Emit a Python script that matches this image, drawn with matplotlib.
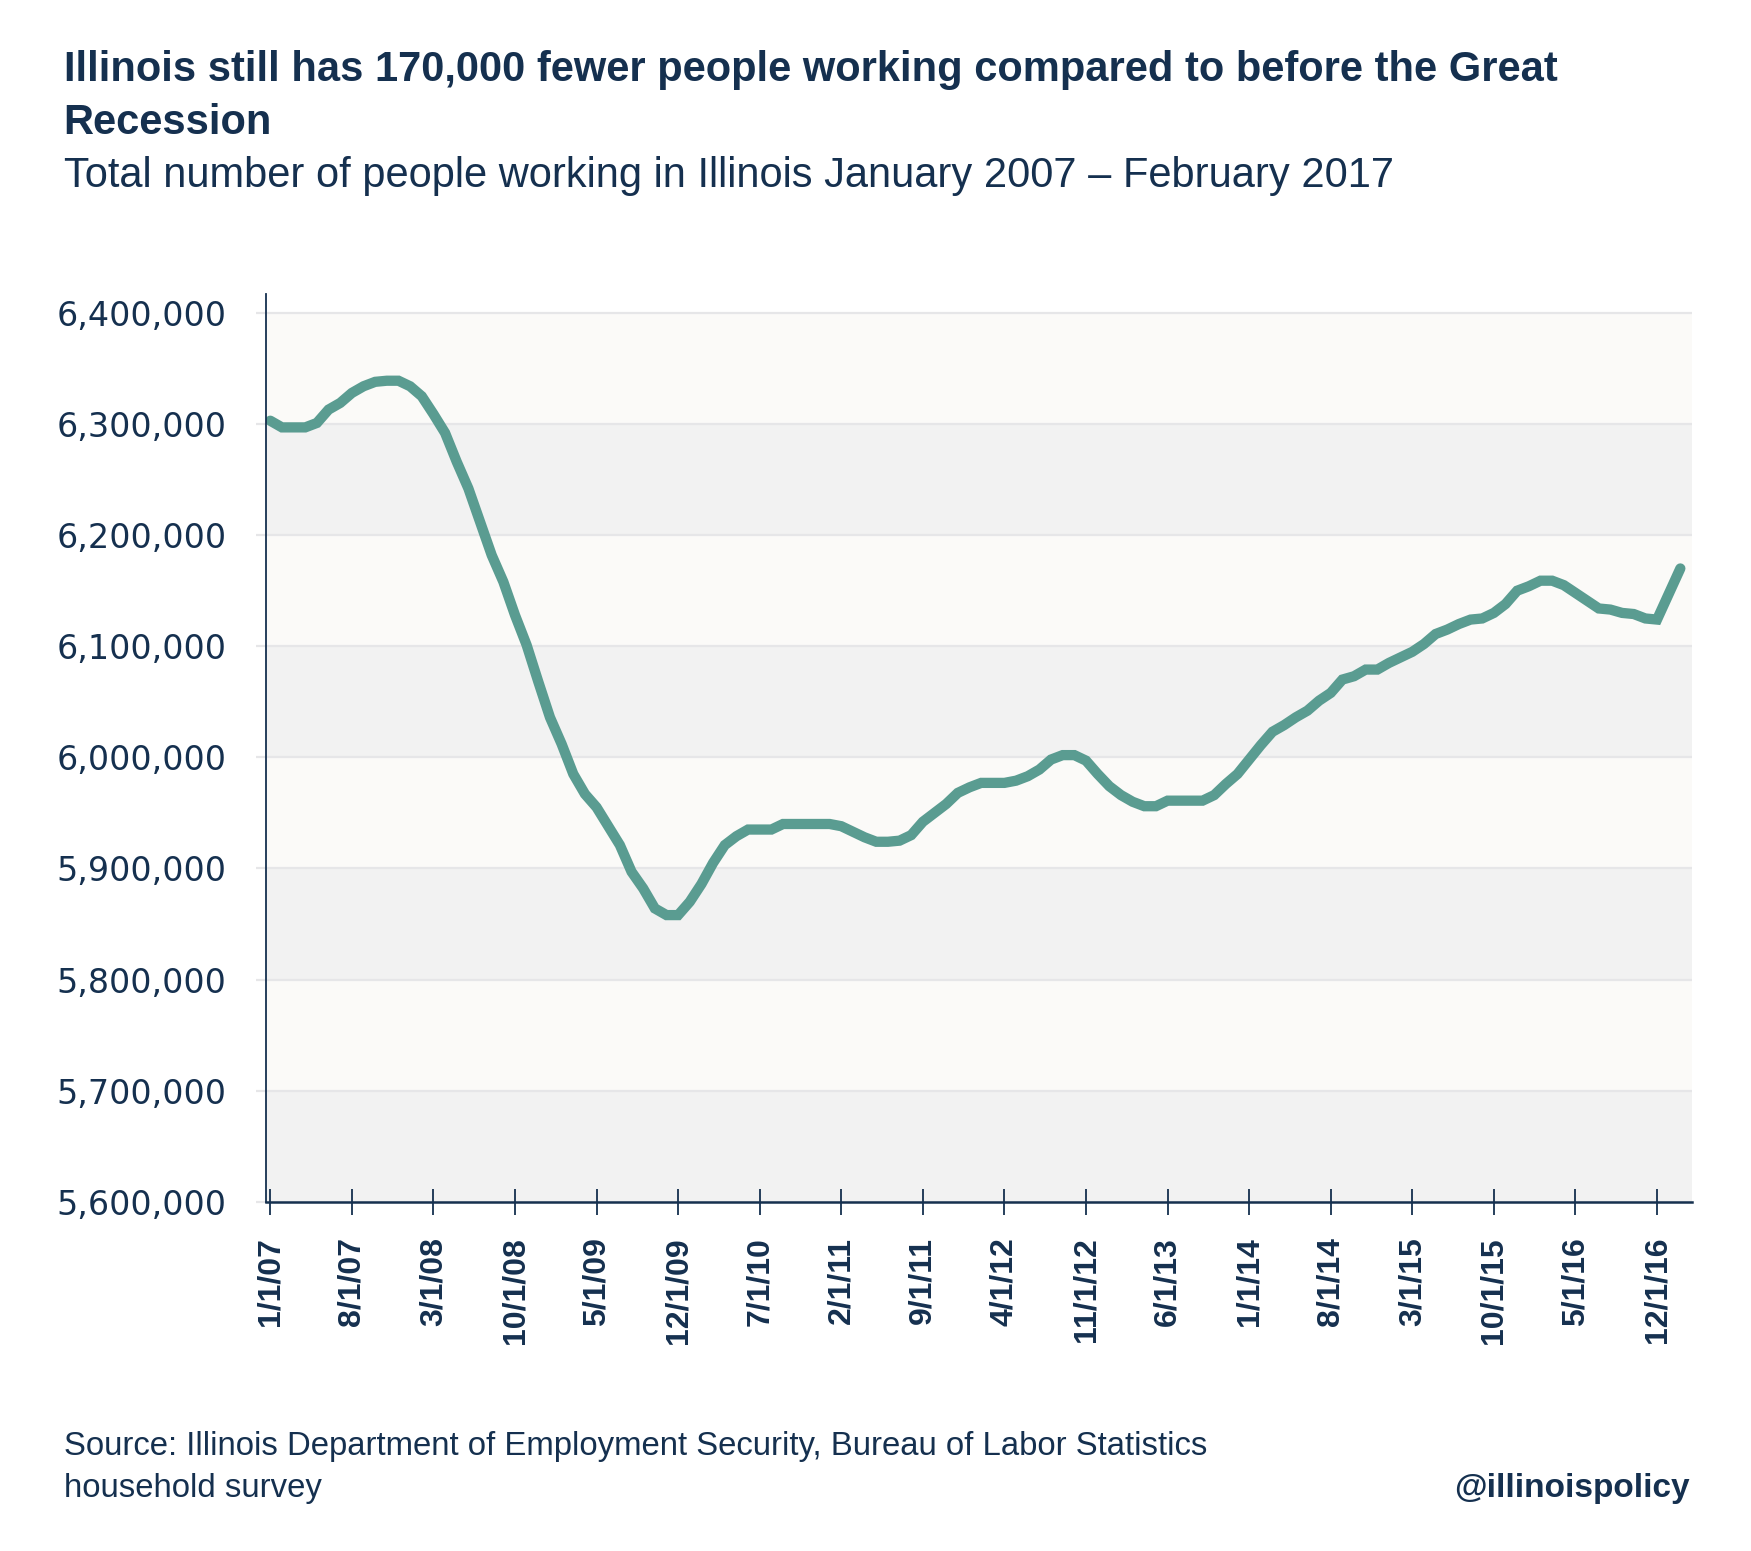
import matplotlib
matplotlib.use('Agg')
from matplotlib import pyplot as plt
from matplotlib.ticker import FuncFormatter

NAVY = '#15304f'
LINE = '#5a9c91'
BAND_LIGHT = '#fbfaf8'
BAND_GREY = '#f2f2f2'
GRID = '#e6e6e8'

# people working in Illinois, monthly Jan 2007 - Feb 2017
working = [
    6303000, 6297000, 6297000, 6297000, 6301000, 6313000, 6319000, 6328000, 6334000, 6338000, 6339000, 6339000,
    6334000, 6325000, 6309000, 6292000, 6266000, 6242000, 6212000, 6182000, 6158000, 6128000, 6101000, 6068000,
    6036000, 6012000, 5985000, 5967000, 5955000, 5938000, 5921000, 5897000, 5882000, 5864000, 5858000, 5858000,
    5870000, 5886000, 5905000, 5921000, 5929000, 5935000, 5935000, 5935000, 5940000, 5940000, 5940000, 5940000,
    5940000, 5938000, 5933000, 5928000, 5924000, 5924000, 5925000, 5930000, 5942000, 5950000, 5958000, 5968000,
    5973000, 5977000, 5977000, 5977000, 5979000, 5983000, 5989000, 5998000, 6002000, 6002000, 5997000, 5985000,
    5974000, 5966000, 5960000, 5956000, 5956000, 5961000, 5961000, 5961000, 5961000, 5966000, 5976000, 5985000,
    5998000, 6011000, 6023000, 6029000, 6036000, 6042000, 6051000, 6058000, 6070000, 6073000, 6079000, 6079000,
    6085000, 6090000, 6095000, 6102000, 6111000, 6115000, 6120000, 6124000, 6125000, 6130000, 6138000, 6150000,
    6154000, 6159000, 6159000, 6155000, 6148000, 6141000, 6134000, 6133000, 6130000, 6129000, 6125000, 6124000,
    6147000, 6170000,
]
tick_labels = ['1/1/07', '8/1/07', '3/1/08', '10/1/08', '5/1/09', '12/1/09', '7/1/10', '2/1/11', '9/1/11',
               '4/1/12', '11/1/12', '6/1/13', '1/1/14', '8/1/14', '3/1/15', '10/1/15', '5/1/16', '12/1/16']
y_ticks = [5600000, 5700000, 5800000, 5900000, 6000000, 6100000, 6200000, 6300000, 6400000]


def plot_working(fig):
    """Draw the employment line on banded background."""
    axes = fig.add_axes([0.1517, 0.2252, 0.8146, 0.5852])
    axes.set_facecolor('white')

    for i, (lo, hi) in enumerate(zip(y_ticks[:-1], y_ticks[1:])):
        axes.axhspan(lo, hi, color=BAND_GREY if i % 2 == 0 else BAND_LIGHT, zorder=0, lw=0)
    for y in y_ticks:
        axes.axhline(y, color=GRID, lw=1.6, zorder=1)

    axes.plot(range(len(working)), working, color=LINE, lw=7.4, solid_capstyle='round',
              solid_joinstyle='miter', zorder=3)

    axes.set_xlim(-0.4, 122)
    axes.set_ylim(5600000, 6417000)
    axes.set_yticks(y_ticks)
    axes.yaxis.set_major_formatter(FuncFormatter(lambda v, _: f"{v:,.0f}"))
    axes.set_xticks(range(0, 7 * len(tick_labels), 7))
    axes.set_xticklabels(tick_labels, rotation=90, fontfamily='Liberation Sans', fontweight='bold',
                         fontsize=23, color=NAVY)

    for side in ('top', 'right'):
        axes.spines[side].set_visible(False)
    axes.spines['left'].set_color(NAVY)
    axes.spines['left'].set_linewidth(1.3)
    axes.spines['bottom'].set_color(NAVY)
    axes.spines['bottom'].set_linewidth(1.8)
    axes.spines['left'].set_zorder(4)
    axes.spines['bottom'].set_zorder(4)

    axes.tick_params(axis='x', direction='inout', length=18.7, width=1.3, color=NAVY, pad=16)
    axes.tick_params(axis='y', direction='out', length=7.2, width=1.6, color=GRID, pad=21,
                     labelsize=24, labelcolor=NAVY)
    for label in axes.get_yticklabels():
        label.set_fontfamily('DejaVu Sans')
    return axes


def main():
    fig = plt.figure(figsize=(17.51, 15.51), dpi=100)
    plot_working(fig)

    fig.text(0.0363, 0.9475, 'Illinois still has 170,000 fewer people working compared to before the Great',
             fontfamily='Liberation Sans', fontweight='bold', fontsize=30, color=NAVY, va='baseline')
    fig.text(0.0363, 0.9136, 'Recession', fontfamily='Liberation Sans', fontweight='bold', fontsize=30,
             color=NAVY, va='baseline')
    fig.text(0.0363, 0.8796, 'Total number of people working in Illinois January 2007 \u2013 February 2017',
             fontfamily='Liberation Sans', fontsize=30, color=NAVY, va='baseline')

    fig.text(0.0363, 0.0619, 'Source: Illinois Department of Employment Security, Bureau of Labor Statistics',
             fontfamily='Liberation Sans', fontsize=23.7, color=NAVY, va='baseline')
    fig.text(0.0363, 0.0350, 'household survey', fontfamily='Liberation Sans', fontsize=23.7, color=NAVY,
             va='baseline')
    fig.text(0.9652, 0.0350, '@illinoispolicy', fontfamily='Liberation Sans', fontweight='bold', fontsize=24,
             color=NAVY, va='baseline', ha='right')

    fig.savefig('out.png', dpi=100, facecolor='white')
    plt.close(fig)


if __name__ == '__main__':
    main()
